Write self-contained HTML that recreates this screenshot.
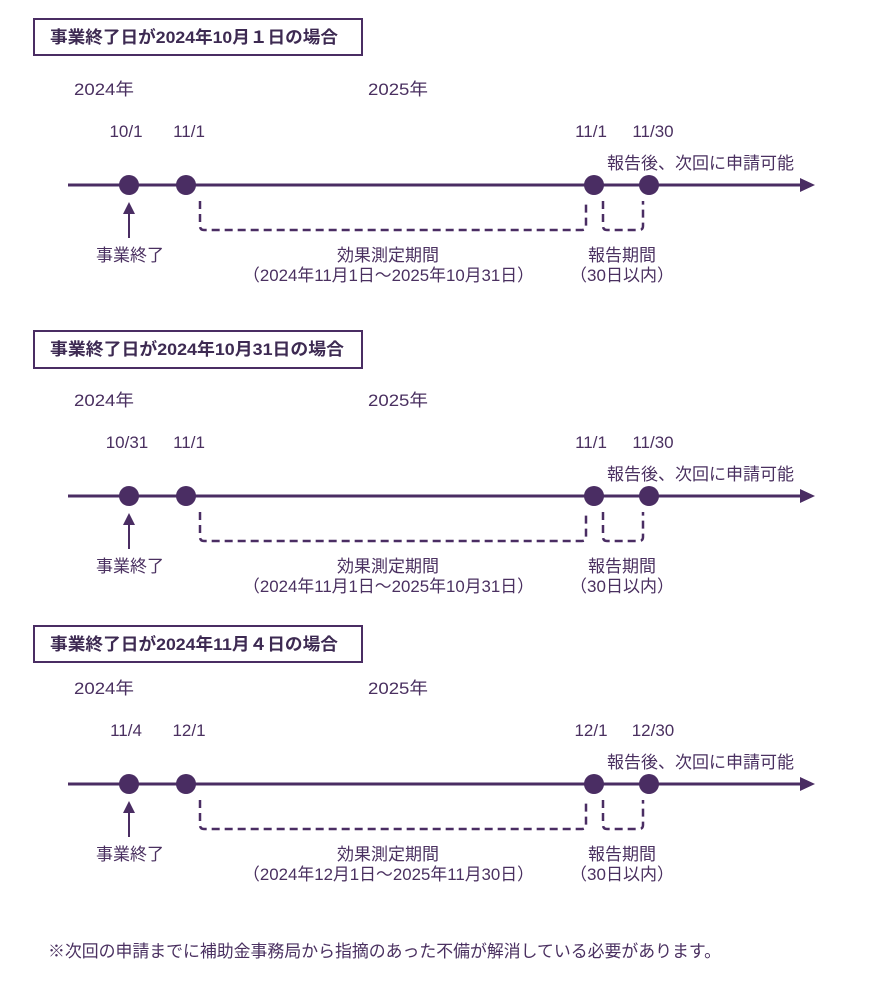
<!DOCTYPE html>
<html><head><meta charset="utf-8"><style>
html,body{margin:0;padding:0;background:#fff;}
svg{display:block;}
text{font-family:"Liberation Sans","Noto Sans CJK JP",sans-serif;fill:#4a3060;font-size:17px;}
.b{font-weight:bold;font-size:17px;fill:#3d2a52;}
</style></head><body>
<svg width="877" height="982" viewBox="0 0 877 982" xmlns="http://www.w3.org/2000/svg">
<defs>
<g id="tl">
  <line x1="68" y1="185" x2="803" y2="185" stroke="#4a2d63" stroke-width="3"/>
  <polygon points="815,185 800,178 800,192" fill="#4a2d63"/>
  <circle cx="129" cy="185" r="10" fill="#4a2d63"/>
  <circle cx="186" cy="185" r="10" fill="#4a2d63"/>
  <circle cx="594" cy="185" r="10" fill="#4a2d63"/>
  <circle cx="649" cy="185" r="10" fill="#4a2d63"/>
  <line x1="129" y1="238" x2="129" y2="212" stroke="#4a2d63" stroke-width="2"/>
  <polygon points="129,202 123,214 135,214" fill="#4a2d63"/>
  <path d="M200,201 L200,226 Q200,230 204,230 L582,230 Q586,230 586,226 L586,201" fill="none" stroke="#4a2d63" stroke-width="2.5" stroke-dasharray="8,5"/>
  <path d="M603,201 L603,226 Q603,230 607,230 L639,230 Q643,230 643,226 L643,201" fill="none" stroke="#4a2d63" stroke-width="2.5" stroke-dasharray="8,5"/>
  <text x="74" y="95" textLength="60" lengthAdjust="spacingAndGlyphs">2024年</text>
  <text x="368" y="95" textLength="60" lengthAdjust="spacingAndGlyphs">2025年</text>
  <text x="607" y="169" textLength="187" lengthAdjust="spacingAndGlyphs">報告後、次回に申請可能</text>
  <text x="96" y="261" textLength="68" lengthAdjust="spacingAndGlyphs">事業終了</text>
  <text x="337" y="261" textLength="102" lengthAdjust="spacingAndGlyphs">効果測定期間</text>
  <text x="588" y="261" textLength="68" lengthAdjust="spacingAndGlyphs">報告期間</text>
  <text x="622" y="281" text-anchor="middle">（30日以内）</text>
</g>
</defs>

<rect x="34" y="19" width="328" height="36" fill="none" stroke="#4a2d63" stroke-width="2"/>
<text class="b" x="50" y="43" textLength="288" lengthAdjust="spacingAndGlyphs">事業終了日が2024年10月１日の場合</text>
<use href="#tl"/>
<text x="126" y="137" text-anchor="middle">10/1</text>
<text x="189" y="137" text-anchor="middle">11/1</text>
<text x="591" y="137" text-anchor="middle">11/1</text>
<text x="653" y="137" text-anchor="middle">11/30</text>
<text x="243" y="281" textLength="291" lengthAdjust="spacingAndGlyphs">（2024年11月1日～2025年10月31日）</text>

<rect x="34" y="331" width="328" height="37" fill="none" stroke="#4a2d63" stroke-width="2"/>
<text class="b" x="50" y="355" textLength="294" lengthAdjust="spacingAndGlyphs">事業終了日が2024年10月31日の場合</text>
<g transform="translate(0,311)"><use href="#tl"/>
<text x="127" y="137" text-anchor="middle">10/31</text>
<text x="189" y="137" text-anchor="middle">11/1</text>
<text x="591" y="137" text-anchor="middle">11/1</text>
<text x="653" y="137" text-anchor="middle">11/30</text>
<text x="243" y="281" textLength="291" lengthAdjust="spacingAndGlyphs">（2024年11月1日～2025年10月31日）</text>
</g>

<rect x="34" y="626" width="328" height="36" fill="none" stroke="#4a2d63" stroke-width="2"/>
<text class="b" x="50" y="650" textLength="288" lengthAdjust="spacingAndGlyphs">事業終了日が2024年11月４日の場合</text>
<g transform="translate(0,599)"><use href="#tl"/>
<text x="126" y="137" text-anchor="middle">11/4</text>
<text x="189" y="137" text-anchor="middle">12/1</text>
<text x="591" y="137" text-anchor="middle">12/1</text>
<text x="653" y="137" text-anchor="middle">12/30</text>
<text x="243" y="281" textLength="291" lengthAdjust="spacingAndGlyphs">（2024年12月1日～2025年11月30日）</text>
</g>

<text x="48" y="957" textLength="673" lengthAdjust="spacingAndGlyphs">※次回の申請までに補助金事務局から指摘のあった不備が解消している必要があります。</text>
</svg>
</body></html>
